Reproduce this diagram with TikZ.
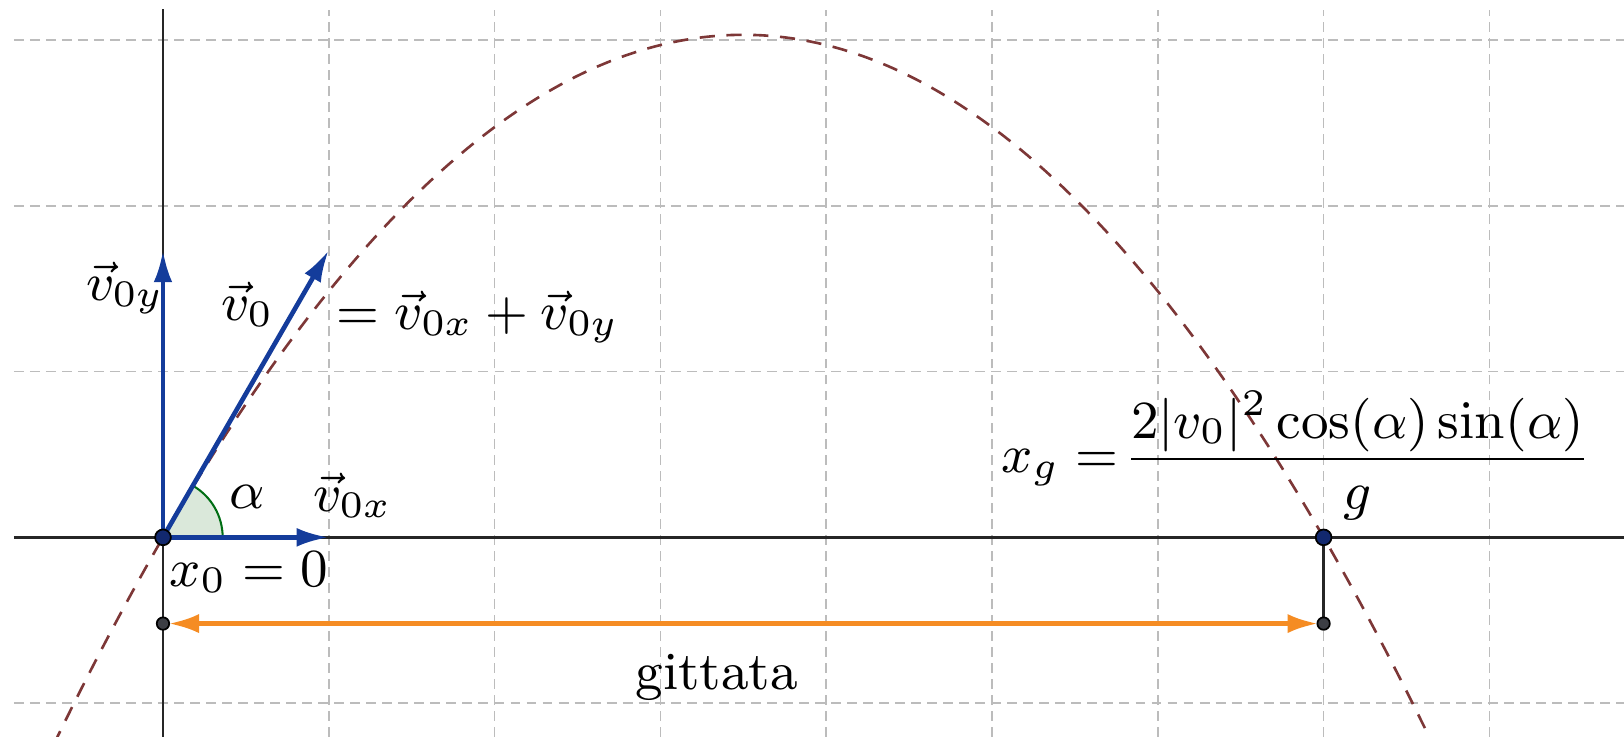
\RequirePackage{fix-cm}
\documentclass[tikz,border=0pt]{standalone}
\usepackage{amsmath}
\usetikzlibrary{arrows.meta}
\definecolor{gridgray}{RGB}{188,188,188}
\definecolor{parab}{RGB}{125,55,55}
\definecolor{vecblue}{RGB}{20,60,155}
\definecolor{dotblue}{RGB}{18,40,110}
\definecolor{dotgray}{RGB}{60,62,68}
\definecolor{orng}{RGB}{245,140,35}
\definecolor{anggreen}{RGB}{0,110,20}
\definecolor{angfill}{RGB}{218,232,218}
\begin{document}
\begin{tikzpicture}[x=1cm,y=1cm,
  font=\fontsize{9.2}{11}\selectfont,
  gridline/.style={draw=gridgray, line width=0.26pt, dash pattern=on 1.7pt off 1.05pt},
  axisline/.style={draw=black!85, line width=0.4pt},
  vecarrow/.style={draw=vecblue, line width=0.8pt, -{Latex[length=5.5pt,width=3.2pt]}},
  rangearrow/.style={draw=orng, line width=0.75pt, {Latex[length=5.2pt,width=3.3pt]}-{Latex[length=5.2pt,width=3.3pt]}},
  bigdot/.style={circle, fill=dotblue, draw=black, line width=0.3pt, minimum size=0.095cm, inner sep=0pt},
  smalldot/.style={circle, fill=dotgray, draw=black, line width=0.3pt, minimum size=0.075cm, inner sep=0pt},
  lbl/.style={inner sep=0pt, anchor=base},
]
\useasboundingbox (-0.983,-1.204) rectangle (8.812,3.241);
% grid
\foreach \i in {1,...,8} \draw[gridline] (\i,-1.204) -- (\i,3.18);
\foreach \j in {-1,1,2,3} \draw[gridline] (-0.9,\j) -- (8.812,\j);
% axes
\draw[axisline] (-0.9,0) -- (8.812,0);
\draw[axisline] (0,-1.204) -- (0,3.186);
% parabola
\begin{scope}
\clip (-0.983,-1.204) rectangle (8.812,3.241);
\draw[parab, line width=0.45pt, dash pattern=on 2.6pt off 2pt] plot[domain=-0.66:7.66, samples=120, smooth] (\x, {1.732*\x*(1-\x/7)});
\end{scope}
% points
\coordinate (O) at (0,0);
\coordinate (V0) at (1,1.732);
\coordinate (Vx) at (1,0);
\coordinate (Vy) at (0,1.732);
\coordinate (G) at (7,0);
\coordinate (A) at (0,-0.52);
\coordinate (B) at (7,-0.52);
% angle
\fill[angfill] (O) -- (0.36,0) arc[start angle=0,end angle=60,radius=0.36] -- cycle;
\draw[anggreen, line width=0.35pt] (0.36,0) arc[start angle=0,end angle=60,radius=0.36];
% vectors
\draw[vecarrow] (O) -- (Vx);
\draw[vecarrow] (O) -- (Vy);
\draw[vecarrow] (O) -- (V0);
% range
\draw[axisline] (G) -- (B);
\draw[rangearrow, shorten <=0.035cm, shorten >=0.035cm] (A) -- (B);
% dots
\node[bigdot] (Odot) at (O) {};
\node[bigdot] (Gdot) at (G) {};
\node[smalldot] (Adot) at (A) {};
\node[smalldot] (Bdot) at (B) {};
% labels
\node[lbl] (lvy) at (-0.229,1.431) {$\vec v_{0y}$};
\node[lbl] (lv0) at (0.51,1.31) {$\vec v_0$};
\node[lbl, anchor=base west] (leq) at (1.04,1.252) {$= \vec v_{0x} + \vec v_{0y}$};
\node[lbl] (lal) at (0.51,0.176) {$\alpha$};
\node[lbl] (lvx) at (1.143,0.154) {$\vec v_{0x}$};
\node[lbl] (lx0) at (0.517,-0.294) {$x_0 = 0$};
\node[lbl, anchor=base west] (lxg) at (5.05,0.39) {$\displaystyle x_g =\mkern-3mu \frac{2|v_0|^2\cos(\alpha)\sin(\alpha)}{g}$};
\node[lbl] (lgit) at (3.34,-0.92) {gittata};
\end{tikzpicture}
\end{document}
